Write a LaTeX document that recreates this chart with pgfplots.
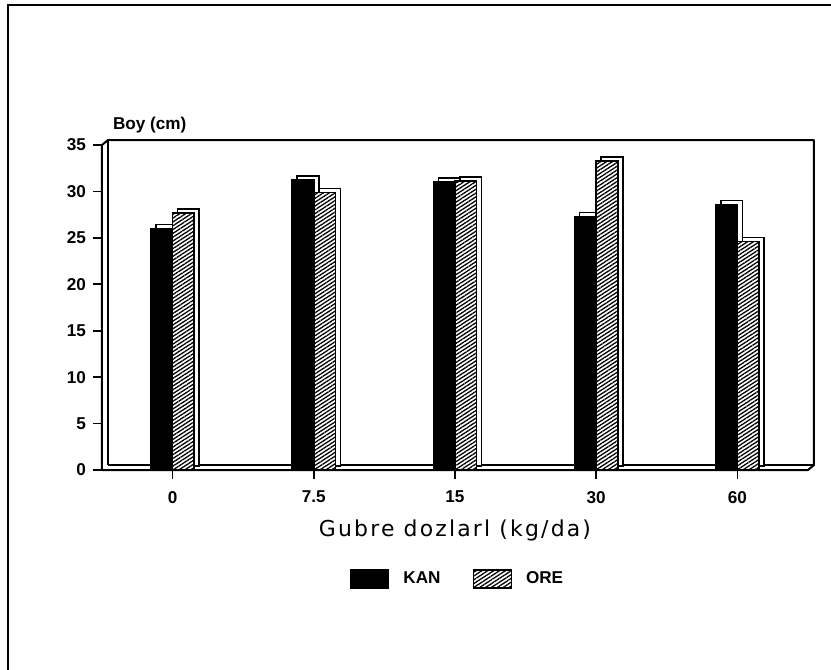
\documentclass[border=0pt]{standalone}
\usepackage{fontspec}
\setmainfont{Liberation Sans}
\newfontfamily\titlefont[LetterSpace=10]{DejaVu Sans}
\usepackage{pgfplots}
\usepackage{pgfplotstable}
\pgfplotsset{compat=1.18}
\usetikzlibrary{patterns.meta}

% Boy (cm) by dose
\pgfplotstableread{
x kan ore
0 26.0 27.7
1 31.2 29.9
2 31.0 31.1
3 27.3 33.3
4 28.6 24.6
}\boydata

\pgfplotsset{
  boxlegend/.style={legend image code/.code={\draw[##1,line width=0.7bp] (0bp,-4.5bp) rectangle (19bp,4.5bp);\path (24bp,0bp);}},
  barbase/.style={ybar,bar width=10.8bp,draw=black,line width=0.8bp},
}
\tikzset{oreHatch/.style={pattern={Lines[angle=33,distance=1.6bp,line width=0.65bp]},pattern color=black}}

\begin{document}
\begin{tikzpicture}
\useasboundingbox (0,0) rectangle (415.5bp,335bp);
\fill[white] (0,0) rectangle (415.5bp,335bp);
\draw[line width=1.2bp] (4bp,0) -- (4bp,332.5bp) -- (415.5bp,332.5bp);
\begin{axis}[
  at={(51bp,100bp)}, anchor=south west,
  scale only axis, width=353bp, height=162.5bp,
  xmin=-0.5, xmax=4.5, ymin=0, ymax=35,
  xtick={0,...,4}, xticklabels={0,7.5,15,30,60},
  ytick={0,5,...,35},
  axis x line*=bottom, axis y line*=left,
  axis line style={draw=none},
  tick align=outside,
  major tick length=4.5bp,
  tick style={black,line width=0.8bp},
  ticklabel style={font=\fontsize{8.6}{10}\selectfont\bfseries},
  xticklabel style={yshift=-2.5bp},
  /pgf/number format/assume math mode=true,
  xlabel={Gubre dozlarl (kg/da)},
  xlabel style={font=\titlefont\fontsize{11}{13}\selectfont, at={(axis description cs:0.5,0)}, anchor=center, yshift=-30bp},
  legend columns=2,
  legend style={draw=none, fill=none, at={(0.505,-0.335)}, anchor=center,
    font=\fontsize{8.6}{10}\selectfont\bfseries,
    /tikz/every even column/.append style={column sep=14bp}},
  clip=false
]
% 3D frame: walls and floor
\draw[line width=1bp,line join=round] (rel axis cs:0,0) -- (rel axis cs:0,1) -- ++(3bp,2.5bp)
  -| ([xshift=3bp,yshift=2.5bp]rel axis cs:1,0) -- (rel axis cs:1,0) -- cycle;
\draw[line width=1bp] ([xshift=3bp,yshift=2.5bp]rel axis cs:0,0) -- ([xshift=3bp,yshift=2.5bp]rel axis cs:0,1);
\draw[line width=1bp] ([xshift=3bp,yshift=2.5bp]rel axis cs:0,0) -- ([xshift=3bp,yshift=2.5bp]rel axis cs:1,0);

\addplot[barbase,bar shift=-5.4bp,fill=white,xshift=2.5bp,yshift=2bp,forget plot] table[x=x,y=kan]{\boydata};
\addplot[barbase,bar shift=-5.4bp,fill=black,boxlegend] table[x=x,y=kan]{\boydata};
\addplot[barbase,bar shift=5.4bp,fill=white,xshift=2.5bp,yshift=2bp,forget plot] table[x=x,y=ore]{\boydata};
\addplot[barbase,bar shift=5.4bp,fill=white,postaction={oreHatch},boxlegend] table[x=x,y=ore]{\boydata};
\legend{KAN,ORE}

\node[anchor=base west,font=\fontsize{8.6}{10}\selectfont\bfseries] at ([xshift=2bp,yshift=8bp]rel axis cs:0,1) {Boy (cm)};
\end{axis}
\end{tikzpicture}
\end{document}
